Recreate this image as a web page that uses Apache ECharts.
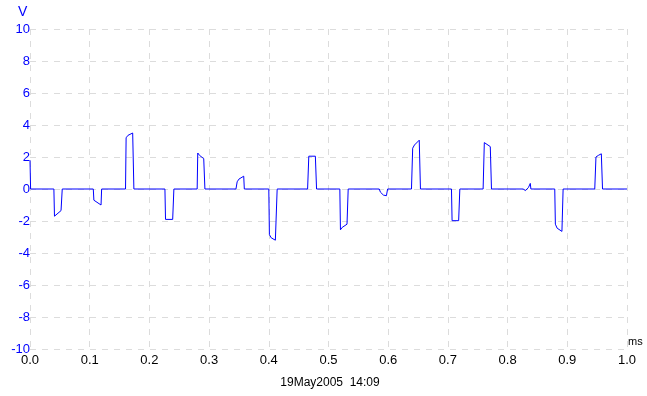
<!DOCTYPE html>
<html>
<head>
<meta charset="utf-8">
<script src="https://cdn.jsdelivr.net/npm/echarts@6/dist/echarts.min.js"></script>
<style>html,body{margin:0;padding:0;background:#fff}#c{width:647px;height:396px}</style>
</head>
<body>
<div id="c"></div>
<script>
const timeMs = [0,0.001,0.040,0.041,0.052,0.054,0.106,0.107,0.119,0.120,0.160,0.161,0.164,0.172,0.174,0.226,0.227,0.239,0.241,0.280,0.281,0.284,0.291,0.293,0.345,0.347,0.350,0.358,0.359,0.400,0.401,0.404,0.411,0.414,0.465,0.467,0.478,0.480,0.519,0.520,0.523,0.531,0.533,0.585,0.587,0.592,0.597,0.599,0.639,0.641,0.644,0.652,0.654,0.706,0.707,0.718,0.720,0.759,0.761,0.764,0.771,0.773,0.826,0.830,0.835,0.838,0.839,0.879,0.880,0.883,0.891,0.893,0.946,0.948,0.952,0.957,0.959,1.0];
const volts = [1.8,0,0,-1.7,-1.35,0,0,-0.7,-1.0,0,0,3.2,3.35,3.5,0,0,-1.9,-1.9,0,0,2.25,2.1,1.9,0,0,0.45,0.62,0.8,0,0,-2.85,-3.05,-3.2,0,0,2.05,2.05,0,0,-2.55,-2.4,-2.2,0,0,-0.2,-0.38,-0.42,0,0,2.55,2.75,3.05,0,0,-1.98,-1.98,0,0,2.9,2.85,2.65,0,0,-0.1,0.1,0.35,0,0,-2.2,-2.45,-2.65,0,0,2.0,2.1,2.2,0,0];
const xTickLabels = ['0.0','0.1','0.2','0.3','0.4','0.5','0.6','0.7','0.8','0.9','1.0'];
const yUnit = 'V';
const xUnit = 'ms';
const stamp = '19May2005  14:09';

const pts = timeMs.map((t, i) => [t, volts[i]]);
const FONT = 'Liberation Sans, Arial, sans-serif';
const chart = echarts.init(document.getElementById('c'), null, {renderer: 'canvas'});
chart.setOption({
  animation: false,
  backgroundColor: '#fff',
  grid: {left: 30, right: 20, top: 29, bottom: 47, containLabel: false},
  xAxis: {
    type: 'value', min: 0, max: 1, interval: 0.1,
    name: xUnit, nameLocation: 'end', nameGap: 1,
    nameTextStyle: {color: '#000', fontSize: 11, fontFamily: FONT, align: 'left', verticalAlign: 'bottom', padding: [0,0,2,0]},
    axisLine: {show: false, onZero: false}, axisTick: {show: false},
    axisLabel: {color: '#000', fontSize: 13, fontFamily: FONT, margin: 5,
      formatter: v => xTickLabels[Math.round(v * 10)]},
    splitLine: {show: true, lineStyle: {color: '#dcdcdc', type: [6, 6], width: 1}}
  },
  yAxis: {
    type: 'value', min: -10, max: 10, interval: 2,
    axisLine: {show: false}, axisTick: {show: false},
    axisLabel: {color: '#0000ff', fontSize: 13, fontFamily: FONT, margin: 0},
    splitLine: {show: true, lineStyle: {color: '#dcdcdc', type: [6, 6], width: 1}}
  },
  graphic: [
    {type: 'text', left: 18, top: 5, style: {text: yUnit, fill: '#0000ff', font: '14px ' + FONT}},
    {type: 'text', x: 330, y: 383, style: {text: stamp, fill: '#000', font: '12px ' + FONT, align: 'center', verticalAlign: 'middle'}}
  ],
  series: [{
    type: 'line', data: pts, showSymbol: false, symbol: 'none',
    lineStyle: {color: '#0000ff', width: 1}, clip: false
  }]
});
</script>
</body>
</html>
